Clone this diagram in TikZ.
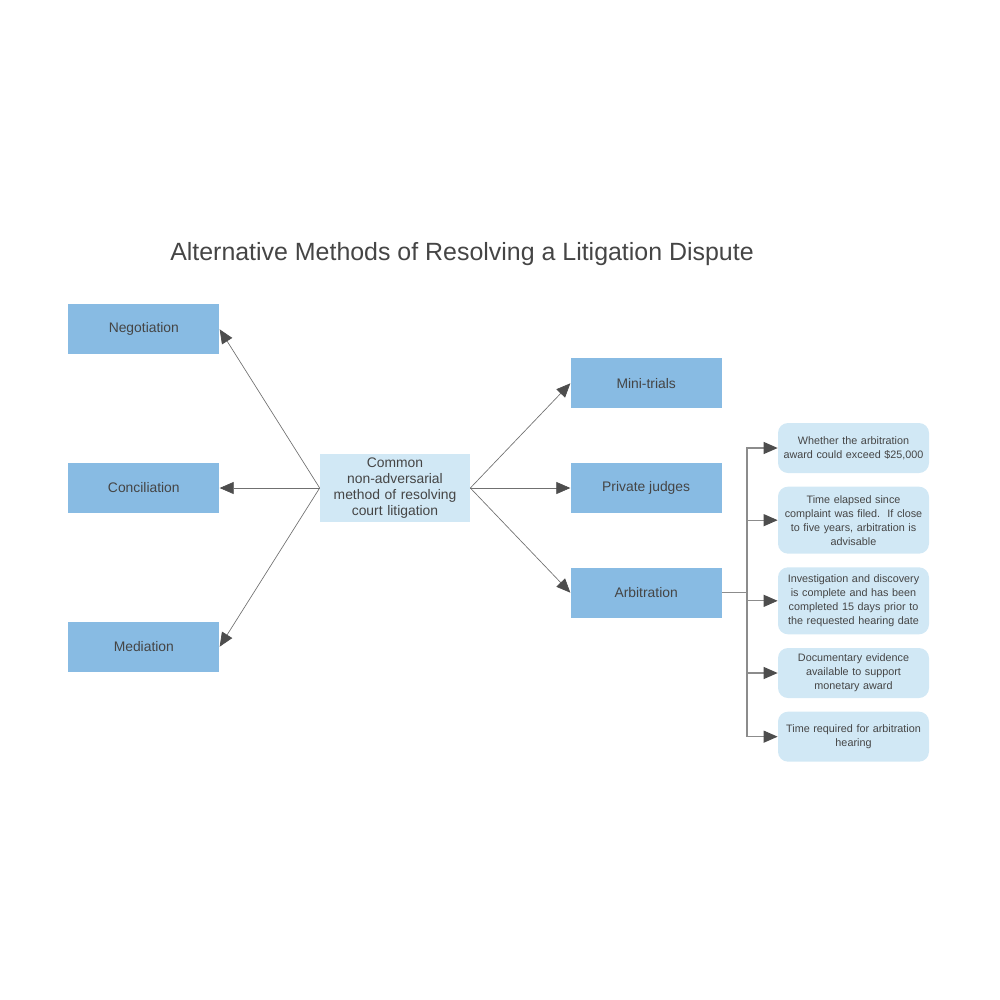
\documentclass[tikz,border=0pt]{standalone}
\usepackage{fontspec}
\setmainfont{Liberation Sans}
\usepackage{xcolor}
\usetikzlibrary{arrows.meta,positioning}

\definecolor{methodblue}{HTML}{88BBE3}
\definecolor{paleblue}{HTML}{D1E8F5}
\definecolor{inkgray}{HTML}{454545}
\definecolor{linegray}{HTML}{707070}
\definecolor{branchgray}{HTML}{8C8C8C}
\definecolor{tipgray}{HTML}{4D4D4D}

\begin{document}
\begin{tikzpicture}[
    x=0.75pt, y=-0.75pt,
    node distance=40.5pt and 75pt,
    >={Triangle[length=10.5pt, width=9pt, color=tipgray]},
    line width=0.5pt,
    method/.style={
        rectangle, fill=methodblue,
        minimum width=113.25pt, minimum height=37.5pt,
        inner sep=0pt, text=inkgray,
        font=\fontsize{10.4}{12}\selectfont
    },
    core/.style={
        rectangle, fill=paleblue,
        minimum width=112.5pt, minimum height=51pt,
        text width=110pt, align=center, inner sep=0pt,
        text=inkgray, font=\fontsize{10.4}{12}\selectfont
    },
    factor/.style={
        rectangle, rounded corners=7.5pt, fill=paleblue,
        minimum width=113.25pt, text width=112pt,
        align=center, inner sep=0pt, text=inkgray,
        font=\fontsize{8.1}{10.5}\selectfont
    },
    link/.style={->, draw=linegray, line width=0.5pt},
    branch/.style={->, draw=branchgray, line width=0.8pt}
]
    \useasboundingbox (0,0) rectangle (1000,1000);

    % Title
    \node [text=inkgray, font=\fontsize{18.7}{22}\selectfont] (title) at (462,254)
        {Alternative Methods of Resolving a Litigation Dispute};

    % Central method
    \node [core] (common) at (395,488)
        {Common\\non-adversarial\\method of resolving\\court litigation};

    % Left methods
    \node [method, left=of common] (concil) {Conciliation};
    \node [method, above=81pt of concil] (negot) {Negotiation};
    \node [method, below=81pt of concil] (media) {Mediation};

    % Right methods
    \node [method, right=of common] (judges) {Private judges};
    \node [method, above=of judges] (mini) {Mini-trials};
    \node [method, below=of judges] (arbit) {Arbitration};

    % Arbitration factors
    \node [factor, minimum height=37.5pt] (f1) at (853.5,448)
        {Whether the arbitration\\award could exceed \$25,000};
    \node [factor, minimum height=50.25pt, below=9.75pt of f1] (f2)
        {Time elapsed since\\complaint was filed.\ \ If close\\to five years, arbitration is\\advisable};
    \node [factor, minimum height=50.25pt, below=9.75pt of f2] (f3)
        {Investigation and discovery\\is complete and has been\\completed 15 days prior to\\the requested hearing date};
    \node [factor, minimum height=37.5pt, below=9.75pt of f3] (f4)
        {Documentary evidence\\available to support\\monetary award};
    \node [factor, minimum height=37.5pt, below=9.75pt of f4] (f5)
        {Time required for arbitration\\hearing};

    % Arrows
    \draw [link] (common.west) -- (negot.east);
    \draw [link] (common.west) -- (concil.east);
    \draw [link] (common.west) -- (media.east);
    \draw [link] (common.east) -- (mini.west);
    \draw [link] (common.east) -- (judges.west);
    \draw [link] (common.east) -- (arbit.west);

    \coordinate [right=18.75pt of arbit.east] (hub);
    \foreach \f in {f1,f2,f3,f4,f5}
        \draw [branch] (arbit.east) -- (hub) |- (\f.west);

\end{tikzpicture}
\end{document}
